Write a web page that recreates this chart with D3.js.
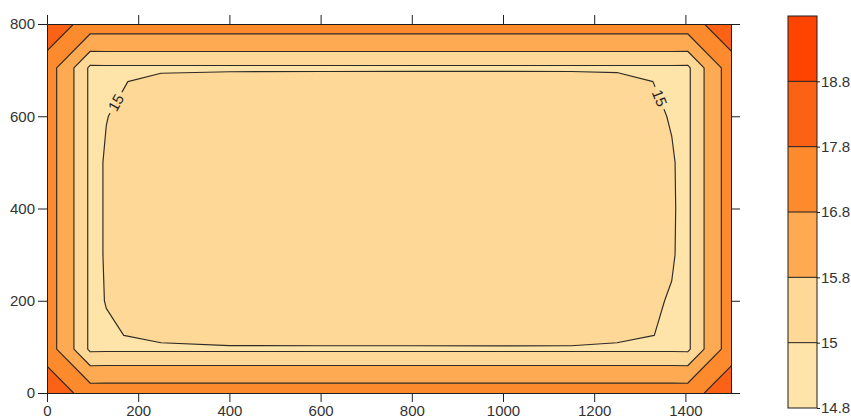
<!DOCTYPE html>
<html>
<head>
<meta charset="utf-8">
<script src="https://cdn.jsdelivr.net/npm/d3@7"></script>
<style>
  html, body { margin: 0; padding: 0; background: #fff; }
  svg { display: block; font-family: "Liberation Sans", Arial, sans-serif; }
</style>
</head>
<body>
<svg id="chart" width="851" height="419"></svg>
<script>
// Node positions of the (rectilinear) measurement grid
const gridX = [0, 95, 130, 250, 400, 600, 800, 1000, 1150, 1250, 1370, 1405, 1500];
const gridY = [0, 95, 125, 200, 300, 400, 500, 600, 675, 705, 800];

// Field values, one row per gridY entry (bottom row first)
const row000 = [18.50, 17.36, 17.36, 17.36, 17.36, 17.36, 17.36, 17.36, 17.36, 17.36, 17.36, 17.36, 18.50];
const row095 = [17.36, 14.85, 14.87, 14.87, 14.87, 14.87, 14.87, 14.87, 14.87, 14.87, 14.87, 14.85, 17.36];
const row125 = [17.36, 14.85, 14.93, 15.15, 15.38, 15.40, 15.40, 15.42, 15.40, 15.15, 14.93, 14.85, 17.36];
const row200 = [17.36, 14.85, 15.02, 15.20, 15.35, 15.40, 15.42, 15.42, 15.40, 15.20, 14.97, 14.85, 17.36];
const row300 = [17.36, 14.85, 15.04, 15.30, 15.40, 15.45, 15.45, 15.45, 15.42, 15.30, 15.04, 14.85, 17.36];
const row400 = [17.36, 14.85, 15.04, 15.32, 15.42, 15.45, 15.46, 15.45, 15.42, 15.32, 15.05, 14.85, 17.36];
const row500 = [17.36, 14.85, 15.04, 15.30, 15.40, 15.44, 15.45, 15.44, 15.40, 15.30, 15.04, 14.85, 17.36];
const row600 = [17.36, 14.85, 14.99, 15.25, 15.38, 15.42, 15.42, 15.42, 15.38, 15.30, 14.97, 14.85, 17.36];
const row675 = [17.36, 14.85, 14.87, 15.20, 15.33, 15.36, 15.38, 15.38, 15.36, 15.25, 14.87, 14.85, 17.36];
const row705 = [17.36, 14.85, 14.87, 14.87, 14.87, 14.87, 14.87, 14.87, 14.87, 14.87, 14.87, 14.85, 17.36];
const row800 = [18.50, 17.36, 17.36, 17.36, 17.36, 17.36, 17.36, 17.36, 17.36, 17.36, 17.36, 17.36, 18.50];
const gridRows = [row000, row095, row125, row200, row300, row400, row500, row600, row675, row705, row800];

// Contour levels and their band colours
const levels = [14.8, 15, 15.8, 16.8, 17.8, 18.8];
const levelColors = ["#fee4a8", "#fed896", "#fdaa52", "#fd8a2c", "#fc6216", "#fe4400"];

// Axis ticks
const xTicks = [0, 200, 400, 600, 800, 1000, 1200, 1400];
const yTicks = [0, 200, 400, 600, 800];

// Where the "15" isoline carries its labels
const labelLevel = 15;
const labelSpots = [[150, 630], [1345, 640]];

const svg = d3.select("#chart");
const plot = { left: 47, top: 24, width: 684, height: 369 };

const x = d3.scaleLinear().domain([0, 1500]).range([plot.left, plot.left + plot.width]);
const y = d3.scaleLinear().domain([0, 800]).range([plot.top + plot.height, plot.top]);

// grid-index space -> data space (values sit at cell centres i + 0.5)
const nx = gridX.length, ny = gridY.length;
const ix = d3.scaleLinear().domain(d3.range(nx).map(i => i + 0.5)).range(gridX);
const iy = d3.scaleLinear().domain(d3.range(ny).map(i => i + 0.5)).range(gridY);

const values = gridRows.flat();
const contours = d3.contours().size([nx, ny]).thresholds(levels)(values);

const toScreen = d3.geoTransform({
  point(px, py) { this.stream.point(x(ix(px)), y(iy(py))); }
});
const path = d3.geoPath(toScreen);

const defs = svg.append("defs");
defs.append("clipPath").attr("id", "plot-clip")
  .append("rect")
  .attr("x", plot.left).attr("y", plot.top)
  .attr("width", plot.width).attr("height", plot.height);

// Filled bands
const field = svg.append("g").attr("clip-path", "url(#plot-clip)");
field.selectAll("path.band")
  .data(contours)
  .join("path")
  .attr("class", "band")
  .attr("d", path)
  .attr("fill", (d, i) => levelColors[i])
  .attr("stroke", "none");

// Label placement on the labelled isoline
const labelContour = contours[levels.indexOf(labelLevel)];
const segs = [];
labelContour.coordinates.forEach(poly => poly.forEach(ring => {
  const pts = ring.map(p => [x(ix(p[0])), y(iy(p[1]))]);
  for (let k = 0; k < pts.length - 1; k++) segs.push([pts[k], pts[k + 1]]);
}));
const labels = labelSpots.map(([dx, dy]) => {
  const tx = x(dx), ty = y(dy);
  let best = null, bestD = Infinity;
  segs.forEach(([a, b]) => {
    const vx = b[0] - a[0], vy = b[1] - a[1];
    const len2 = vx * vx + vy * vy || 1;
    let t = ((tx - a[0]) * vx + (ty - a[1]) * vy) / len2;
    t = Math.max(0, Math.min(1, t));
    const px = a[0] + t * vx, py = a[1] + t * vy;
    const dd = (px - tx) ** 2 + (py - ty) ** 2;
    if (dd < bestD) { bestD = dd; best = { px, py, ang: Math.atan2(vy, vx) * 180 / Math.PI }; }
  });
  let ang = best.ang;
  if (ang > 90) ang -= 180;
  if (ang < -90) ang += 180;
  return { x: best.px, y: best.py, angle: ang, text: String(labelLevel) };
});

// Mask that opens gaps in the isolines under each label
const mask = defs.append("mask").attr("id", "label-gaps")
  .attr("maskUnits", "userSpaceOnUse")
  .attr("x", 0).attr("y", 0).attr("width", 851).attr("height", 419);
mask.append("rect").attr("width", 851).attr("height", 419).attr("fill", "#fff");
mask.selectAll("rect.gap")
  .data(labels)
  .join("rect")
  .attr("class", "gap")
  .attr("x", -12).attr("y", -7).attr("width", 24).attr("height", 14)
  .attr("fill", "#000")
  .attr("transform", d => `translate(${d.x},${d.y}) rotate(${d.angle})`);

// Isolines
const lines = svg.append("g").attr("clip-path", "url(#plot-clip)")
  .append("g").attr("mask", "url(#label-gaps)");
lines.selectAll("path.iso")
  .data(contours.slice(1))
  .join("path")
  .attr("class", "iso")
  .attr("d", path)
  .attr("fill", "none")
  .attr("stroke", "#2e2a26")
  .attr("stroke-width", 1.15)
  .attr("stroke-linejoin", "round");

svg.append("g").selectAll("text")
  .data(labels)
  .join("text")
  .attr("transform", d => `translate(${d.x},${d.y}) rotate(${d.angle})`)
  .attr("text-anchor", "middle")
  .attr("dy", "0.35em")
  .attr("font-size", 15)
  .attr("fill", "#222")
  .text(d => d.text);

// Axes on all four sides (labels only bottom and left)
function styleAxis(g) {
  g.selectAll(".domain").attr("stroke", "#1e1e1e");
  g.selectAll(".tick line").attr("stroke", "#1e1e1e");
  g.selectAll(".tick text").attr("fill", "#333").attr("font-size", 15)
    .attr("font-family", "\"Liberation Sans\", Arial, sans-serif");
}
svg.append("g").attr("transform", `translate(0,${plot.top + plot.height})`)
  .call(d3.axisBottom(x).tickValues(xTicks).tickFormat(d3.format("d")).tickSize(9).tickSizeOuter(0))
  .call(styleAxis);
svg.append("g").attr("transform", `translate(0,${plot.top})`)
  .call(d3.axisTop(x).tickValues(xTicks).tickFormat("").tickSize(9).tickSizeOuter(0))
  .call(styleAxis);
svg.append("g").attr("transform", `translate(${plot.left},0)`)
  .call(d3.axisLeft(y).tickValues(yTicks).tickFormat(d3.format("d")).tickSize(9).tickSizeOuter(0))
  .call(styleAxis);
svg.append("g").attr("transform", `translate(${plot.left + plot.width},0)`)
  .call(d3.axisRight(y).tickValues(yTicks).tickFormat("").tickSize(9).tickSizeOuter(0))
  .call(styleAxis);

// Colour bar
const bar = { x: 788, width: 29, top: 16, bottom: 408 };
const barY = d3.scalePoint()
  .domain(d3.range(levels.length + 1))
  .range([bar.bottom, bar.top]);
const cb = svg.append("g");
cb.selectAll("rect.swatch")
  .data(levels)
  .join("rect")
  .attr("class", "swatch")
  .attr("x", bar.x)
  .attr("y", (d, i) => barY(i + 1))
  .attr("width", bar.width)
  .attr("height", (d, i) => barY(i) - barY(i + 1))
  .attr("fill", (d, i) => levelColors[i]);
cb.selectAll("line.sep")
  .data(levels.slice(1))
  .join("line")
  .attr("class", "sep")
  .attr("x1", bar.x).attr("x2", bar.x + bar.width)
  .attr("y1", (d, i) => barY(i + 1)).attr("y2", (d, i) => barY(i + 1))
  .attr("stroke", "#1e1e1e");
cb.append("rect")
  .attr("x", bar.x).attr("y", bar.top)
  .attr("width", bar.width).attr("height", bar.bottom - bar.top)
  .attr("fill", "none").attr("stroke", "#1e1e1e");
const cbAxis = cb.append("g").attr("transform", `translate(${bar.x + bar.width},0)`)
  .call(d3.axisRight(barY).tickValues(d3.range(levels.length))
    .tickFormat(i => levels[i]).tickSize(3).tickPadding(1))
  .call(styleAxis);
cbAxis.select(".domain").remove();
</script>
</body>
</html>
